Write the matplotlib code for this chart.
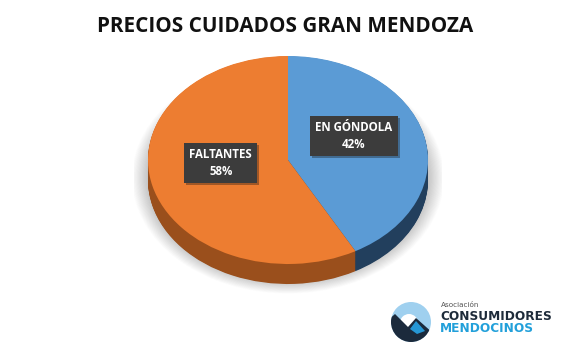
import matplotlib
matplotlib.use("Agg")
import matplotlib.pyplot as plt
from matplotlib.patches import Circle, Ellipse, Polygon
import matplotlib.patheffects as pe
import numpy as np

# data
labels = ["EN GÓNDOLA", "FALTANTES"]
values = [42, 58]
top_colors = ["#5b9bd5", "#ed7d31"]
side_colors = ["#223f5d", "#9a4f1c"]
title = "PRECIOS CUIDADOS GRAN MENDOZA"

W, H = 570, 353
fig = plt.figure(figsize=(W / 100, H / 100), dpi=100)
fig.patch.set_facecolor("white")

# background axes in pixel coordinates (title + logo)
bg = fig.add_axes([0, 0, 1, 1])
bg.set_xlim(0, W)
bg.set_ylim(H, 0)
bg.axis("off")

bg.text(285, 26, title, ha="center", va="center", fontsize=14.9,
        fontweight="bold", family="Open Sans", color="#111111")

# logo
icon = Circle((411, 322), 20, facecolor="#9fd0ef", edgecolor="none")
bg.add_patch(icon)
parts = [
    Circle((409, 323), 9, facecolor="white", edgecolor="none"),
    Polygon([(386, 322), (395, 314), (408, 327), (416, 318), (434, 334),
             (434, 345), (386, 345)], closed=True, facecolor="#1b2a3c",
            edgecolor="none"),
    Polygon([(410, 329), (416, 321), (425, 331), (417, 334)], closed=True,
            facecolor="#2697d5", edgecolor="none"),
]
for p in parts:
    bg.add_patch(p)
    p.set_clip_path(icon)

bg.text(441, 305, "Asociación", ha="left", va="center", fontsize=5.2,
        family="DejaVu Sans", color="#555555")
bg.text(440, 317, "CONSUMIDORES", ha="left", va="center", fontsize=8.7,
        fontweight="bold", family="DejaVu Sans", color="#1e2b3a")
bg.text(440, 329, "MENDOCINOS", ha="left", va="center", fontsize=8.7,
        fontweight="bold", family="DejaVu Sans", color="#22a0da")

# pie axes: 1 unit = 140 px horizontally, 104 px vertically
cx, cy = 288, 160
ax = fig.add_axes([(cx - 154) / W, (H - 300) / H, 308 / W, 260 / H])
ax.patch.set_alpha(0)

# soft shadow
for i in range(30):
    s = 1.0 + 0.004 * i
    ax.add_patch(Ellipse((0.0, -0.17), 2 * s, 2 * s,
                         facecolor="#000000", alpha=0.009, edgecolor="none"))

depth = 20 / 104
for k in np.linspace(depth, 0.005, 30):
    ax.pie(values, colors=side_colors, startangle=90, counterclock=False,
           center=(0, -k), radius=1, wedgeprops=dict(linewidth=0))
ax.pie(values, colors=top_colors, startangle=90, counterclock=False,
       center=(0, 0), radius=1, wedgeprops=dict(linewidth=0))

ax.set_aspect("auto")
ax.set_xlim(-1.1, 1.1)
ax.set_ylim(1 - 244 / 104, 1 + 16 / 104)
ax.axis("off")

label_pos = [(0.47, 0.23), (-0.48, -0.03)]
for lab, v, (x, y) in zip(labels, values, label_pos):
    t = ax.text(x, y, f"{lab}\n{v}%", ha="center", va="center", fontsize=8.3,
                fontweight="bold", family="Open Sans", color="white",
                linespacing=1.35,
                bbox=dict(boxstyle="square,pad=0.45", facecolor="#3c3c3c",
                          edgecolor="none"))
    t.get_bbox_patch().set_path_effects(
        [pe.SimplePatchShadow(offset=(1.5, -1.5), alpha=0.35), pe.Normal()])

fig.savefig("out.png", dpi=100)
